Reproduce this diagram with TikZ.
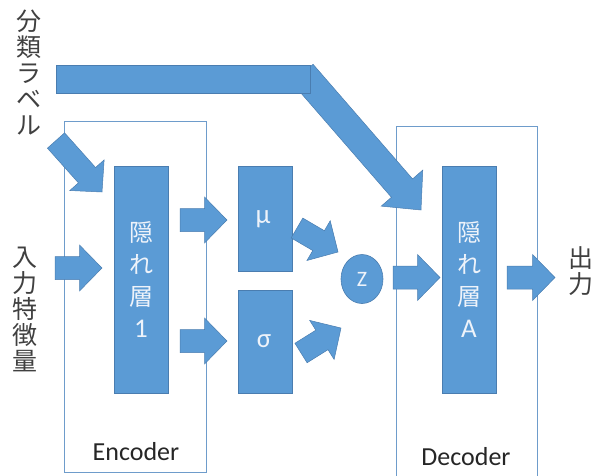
\documentclass[tikz,border=0pt]{standalone}
\usepackage{fontspec}
\setmainfont{Carlito}
\newfontfamily\jp{Noto Sans CJK JP}
\usetikzlibrary{calc,shapes.geometric}
\definecolor{fillb}{HTML}{5B9BD5}
\definecolor{lineb}{HTML}{4A7DB0}
\definecolor{frameb}{HTML}{6E9CCB}
\definecolor{txtw}{HTML}{EEF3FA}
\definecolor{txtg}{HTML}{404040}
\tikzset{
  arrowbody/.style={fill=fillb, draw=lineb, line width=0.5pt, line join=miter},
  hbox/.style={rectangle, fill=fillb, draw=lineb, line width=0.6pt, inner sep=0pt, text=txtw, align=center},
  framebox/.style={rectangle, draw=frameb, line width=0.9pt, inner sep=0pt},
  jplabel/.style={inner sep=0pt, align=center, text=txtg, font=\jp\fontsize{25}{26.2}\selectfont},
  captext/.style={inner sep=0pt, text=black!85, font=\fontsize{26}{30}\selectfont},
}
% block arrow: tail, tip, shaft half width, head half width, head length
\newcommand{\barrowx}[5]{%
  \draw[arrowbody] let \p1=($(#2)-(#1)$), \n1={scalar(atan2(\y1,\x1))}, \n2={veclen(\x1,\y1)-#5} in
   ($(#1)+(\n1+90:#3pt)$) -- ++(\n1:\n2) -- ++(\n1+90:#4pt-#3pt) -- (#2)
   -- ($(#1)+(\n1:\n2)+(\n1-90:#4pt)$) -- ++(\n1+90:#4pt-#3pt)
   -- ($(#1)+(\n1-90:#3pt)$) -- cycle;}
\newcommand{\barrow}[2]{\barrowx{#1}{#2}{11.5}{23}{22.5}}
\begin{document}
\begin{tikzpicture}[x=1pt, y=-1pt]
\useasboundingbox (0,0) rectangle (607,475);
% frames
\node[framebox, minimum width=142pt, minimum height=351pt] (enc) at (135,296.5) {};
\node[framebox, minimum width=141pt, minimum height=370pt] (dec) at (466.5,311) {};
\node[captext] (enclbl) at (136,452) {Encoder};
\node[captext] (declbl) at (466,457) {Decoder};
% labels
\node[jplabel] (cls) at (29,72.5) {分\\類\\ラ\\ベ\\ル};
\node[jplabel] (inp) at (25,309.5) {入\\力\\特\\徴\\量};
\node[jplabel] (out) at (581,271.5) {出\\力};
% arrow coordinates
\coordinate (c1a) at (56,140.5);  \coordinate (c1b) at (102,192);
\coordinate (c2a) at (302.5,73.5); \coordinate (c2b) at (421,210);
\coordinate (i1a) at (55,268);    \coordinate (i1b) at (102,268);
\coordinate (m1a) at (180,220);   \coordinate (m1b) at (227,220);
\coordinate (s1a) at (180,341);   \coordinate (s1b) at (227,341);
\coordinate (mza) at (297,228);   \coordinate (mzb) at (338,252);
\coordinate (sza) at (301,353);   \coordinate (szb) at (341,328);
\coordinate (zaa) at (393,277.5); \coordinate (zab) at (440,277.5);
\coordinate (aoa) at (507,277.5); \coordinate (aob) at (555,277.5);
% class label arrows
\barrowx{c2a}{c2b}{14}{27.5}{29}
\node[hbox, minimum width=254pt, minimum height=28pt] (clsbar) at (183,79) {};
\barrow{c1a}{c1b}
% boxes
\node[hbox, minimum width=54pt, minimum height=227pt, font=\fontsize{24}{31.7}\selectfont] (h1) at (141,279.5) {{\jp 隠}\\{\jp れ}\\{\jp 層}\\{\fontsize{27}{31.7}\selectfont 1}};
\node[hbox, minimum width=54pt, minimum height=105pt] (mu) at (265,218.5) {};
\node[text=txtw, inner sep=0pt, font=\fontsize{27}{30}\selectfont] (mut) at (263,219) {μ};
\node[hbox, minimum width=54pt, minimum height=103pt] (sg) at (265,341.5) {};
\node[text=txtw, inner sep=0pt, font=\fontsize{27}{30}\selectfont] (sgt) at (264,341) {σ};
\node[ellipse, fill=fillb, draw=lineb, line width=0.6pt, minimum width=42pt, minimum height=49pt, inner sep=0pt, text=txtw, font=\fontsize{22}{24}\selectfont] (z) at (362,279) {Z};
\node[hbox, minimum width=54pt, minimum height=227pt, font=\fontsize{24}{31.7}\selectfont] (ha) at (469,279.5) {{\jp 隠}\\{\jp れ}\\{\jp 層}\\{\fontsize{27}{31.7}\selectfont A}};
% arrows
\barrow{i1a}{i1b}
\barrow{m1a}{m1b}
\barrow{s1a}{s1b}
\barrow{mza}{mzb}
\barrow{sza}{szb}
\barrow{zaa}{zab}
\barrow{aoa}{aob}
\end{tikzpicture}
\end{document}
